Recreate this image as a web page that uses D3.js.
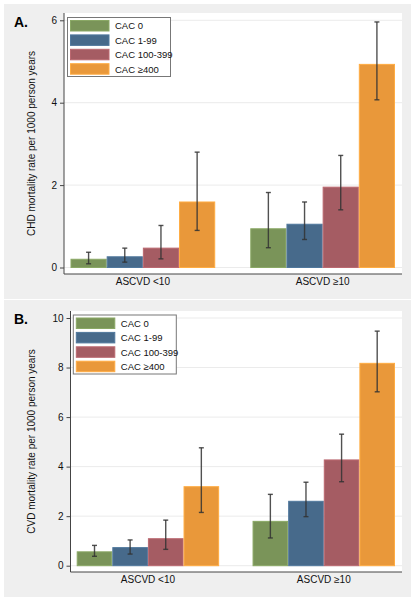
<!DOCTYPE html>
<html><head><meta charset="utf-8">
<script src="https://cdn.jsdelivr.net/npm/d3@7"></script>
<style>body{margin:0;background:#fff}svg{display:block}</style>
</head><body>
<svg id="c" width="416" height="600"></svg>
<script>
const groups = ["ASCVD <10", "ASCVD \u226510"];
const series = ["CAC 0", "CAC 1-99", "CAC 100-399", "CAC \u2265400"];
const colors = ["#7a9459", "#476a8b", "#a55c63", "#e9983a"];
// Panel A: CHD
const chdRate = [[0.20, 0.26, 0.47, 1.59], [0.94, 1.05, 1.95, 4.93]];
const chdLow  = [[0.09, 0.13, 0.21, 0.90], [0.48, 0.68, 1.40, 4.07]];
const chdHigh = [[0.37, 0.47, 1.02, 2.80], [1.82, 1.59, 2.72, 5.96]];
const chdTicks = [0, 2, 4, 6];
// Panel B: CVD
const cvdRate = [[0.56, 0.73, 1.09, 3.19], [1.79, 2.60, 4.27, 8.17]];
const cvdLow  = [[0.38, 0.47, 0.66, 2.15], [1.12, 1.98, 3.39, 7.02]];
const cvdHigh = [[0.82, 1.04, 1.84, 4.76], [2.88, 3.37, 5.31, 9.47]];
const cvdTicks = [0, 2, 4, 6, 8, 10];

const svg = d3.select("#c");
const font = "Liberation Sans, Arial, sans-serif";

function panel(cfg) {
  const g = svg.append("g");
  g.append("rect").attr("x", 4).attr("y", cfg.top).attr("width", 407).attr("height", cfg.h).attr("fill", "#efefef");
  g.append("rect").attr("x", cfg.x0).attr("y", cfg.pt).attr("width", cfg.x1 - cfg.x0).attr("height", cfg.pb - cfg.pt).attr("fill", "#fff");
  const y = d3.scaleLinear().domain([0, cfg.ymax]).range([cfg.y0, cfg.yTop]);
  const xg = d3.scaleBand().domain(groups).range([cfg.bx0, cfg.bx1]).paddingInner(cfg.pin).paddingOuter(0);
  const xs = d3.scaleBand().domain(series).range([0, xg.bandwidth()]);
  // grid
  g.selectAll(".grid").data(cfg.ticks).join("line")
    .attr("x1", cfg.x0).attr("x2", cfg.x1)
    .attr("y1", d => y(d)).attr("y2", d => y(d))
    .attr("stroke", "#ebebeb").attr("stroke-width", 1);
  // bars
  groups.forEach((gr, gi) => {
    series.forEach((s, si) => {
      const v = cfg.rate[gi][si];
      g.append("rect")
        .attr("x", xg(gr) + xs(s) + 0.5).attr("width", xs.bandwidth() - 1)
        .attr("y", y(v)).attr("height", y(0) - y(v))
        .attr("fill", colors[si]).attr("stroke", d3.color(colors[si]).brighter(0.35)).attr("stroke-width", 1);
    });
  });
  // error bars
  groups.forEach((gr, gi) => {
    series.forEach((s, si) => {
      const cx = xg(gr) + xs(s) + xs.bandwidth() / 2;
      const lo = y(cfg.low[gi][si]), hi = y(cfg.high[gi][si]);
      const eg = g.append("g").attr("stroke", "#333").attr("stroke-width", 1.4).attr("stroke-opacity", 0.85);
      eg.append("line").attr("x1", cx).attr("x2", cx).attr("y1", lo).attr("y2", hi);
      eg.append("line").attr("x1", cx - 2.5).attr("x2", cx + 2.5).attr("y1", lo).attr("y2", lo);
      eg.append("line").attr("x1", cx - 2.5).attr("x2", cx + 2.5).attr("y1", hi).attr("y2", hi);
    });
  });
  // y axis
  const ya = d3.axisLeft(y).tickValues(cfg.ticks).tickSize(4).tickPadding(3).tickFormat(d3.format("d"));
  const yag = g.append("g").attr("transform", `translate(${cfg.x0},0)`).call(ya);
  yag.select(".domain").remove();
  yag.append("line").attr("x1", 0).attr("x2", 0).attr("y1", cfg.pt).attr("y2", cfg.pb).attr("stroke", "#444");
  yag.selectAll(".tick line").attr("stroke", "#444");
  yag.selectAll("text").attr("font-family", font).attr("font-size", 10).attr("fill", "#111");
  // x axis
  const xa = d3.axisBottom(xg).tickSize(0).tickPadding(4);
  const xag = g.append("g").attr("transform", `translate(0,${cfg.pb})`).call(xa);
  xag.select(".domain").remove();
  xag.append("line").attr("x1", cfg.x0).attr("x2", cfg.x1).attr("stroke", "#444");
  xag.selectAll("text").attr("font-family", font).attr("font-size", 10).attr("fill", "#111");
  // y label
  g.append("text").attr("transform", `translate(${cfg.labx},${(cfg.pt + cfg.pb) / 2}) rotate(-90)`)
    .attr("text-anchor", "middle").attr("font-family", font).attr("font-size", 10).attr("fill", "#111")
    .text(cfg.ylabel);
  // panel letter
  g.append("text").attr("x", 14).attr("y", cfg.letterY).attr("font-family", font).attr("font-weight", "bold")
    .attr("font-size", 14).attr("fill", "#000").text(cfg.letter);
  // legend
  const lg = g.append("g");
  lg.append("rect").attr("x", cfg.lx).attr("y", cfg.ly).attr("width", 103).attr("height", 59)
    .attr("fill", "#fff").attr("stroke", "#777").attr("stroke-width", 1);
  series.forEach((s, si) => {
    const ry = cfg.ly + 3 + si * 14.4;
    lg.append("rect").attr("x", cfg.lx + 3).attr("y", ry).attr("width", 38.5).attr("height", 10.5)
      .attr("fill", colors[si]).attr("stroke", d3.color(colors[si]).brighter(0.35));
    lg.append("text").attr("x", cfg.lx + 47.5).attr("y", ry + 8.8).attr("font-family", font).attr("font-size", 9.5)
      .attr("fill", "#111").text(s);
  });
}

panel({
  top: 4, h: 295, x0: 64, x1: 402, pt: 13, pb: 274,
  y0: 267.5, yTop: 20.3, ymax: 6, ticks: chdTicks,
  bx0: 70.5, bx1: 395, pin: 0.195,
  rate: chdRate, low: chdLow, high: chdHigh,
  ylabel: "CHD mortality rate per 1000 person years", labx: 35,
  letter: "A.", letterY: 27, lx: 67.5, ly: 17.5
});
panel({
  top: 300, h: 297, x0: 70.5, x1: 402, pt: 311, pb: 572,
  y0: 565.7, yTop: 318, ymax: 10, ticks: cvdTicks,
  bx0: 76.7, bx1: 395, pin: 0.19,
  rate: cvdRate, low: cvdLow, high: cvdHigh,
  ylabel: "CVD mortality rate per 1000 person years", labx: 35,
  letter: "B.", letterY: 324, lx: 73.3, ly: 315
});
</script>
</body></html>
